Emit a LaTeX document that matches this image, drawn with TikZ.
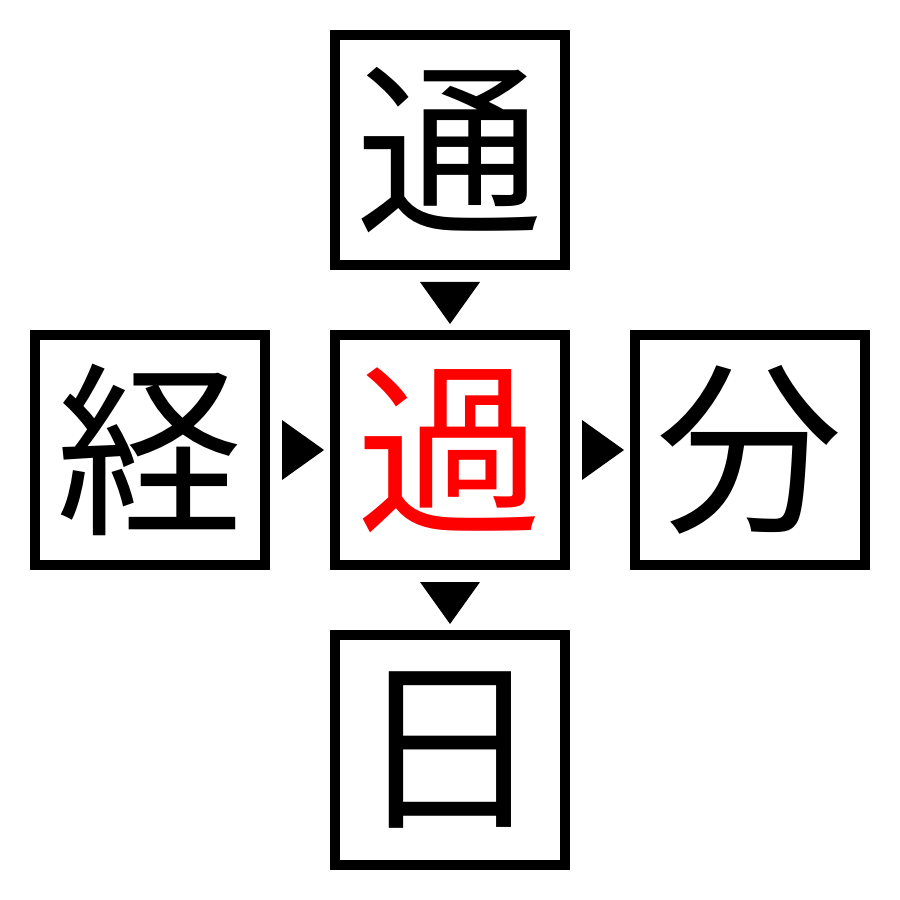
\documentclass[tikz,border=0pt]{standalone}
\usepackage{fontspec}
\newfontfamily\cjk{Noto Sans CJK JP}
\usetikzlibrary{calc}
\begin{document}
\begin{tikzpicture}[x=0.1mm,y=-0.1mm,
  box/.style={draw=black,line width=1mm,minimum size=23mm,inner sep=0pt,fill=white,font=\cjk\fontsize{53}{53}\selectfont},
  tri/.style={fill=black}]
\useasboundingbox (0,0) rectangle (900,900);
\node[box] (t) at (450,150) {通};
\node[box] (l) at (150,450) {経};
\node[box,text=red] (c) at (450,450) {過};
\node[box] (r) at (750,450) {分};
\node[box] (b) at (450,750) {日};
\fill[tri] ($(t.south)+(-30,12)$) -- ($(t.south)+(30,12)$) -- ($(c.north)+(0,-6)$) -- cycle;
\fill[tri] ($(c.south)+(-30,12)$) -- ($(c.south)+(30,12)$) -- ($(b.north)+(0,-6)$) -- cycle;
\fill[tri] ($(l.east)+(12,-30)$) -- ($(l.east)+(12,30)$) -- ($(c.west)+(-6,0)$) -- cycle;
\fill[tri] ($(c.east)+(12,-30)$) -- ($(c.east)+(12,30)$) -- ($(r.west)+(-6,0)$) -- cycle;
\end{tikzpicture}
\end{document}
